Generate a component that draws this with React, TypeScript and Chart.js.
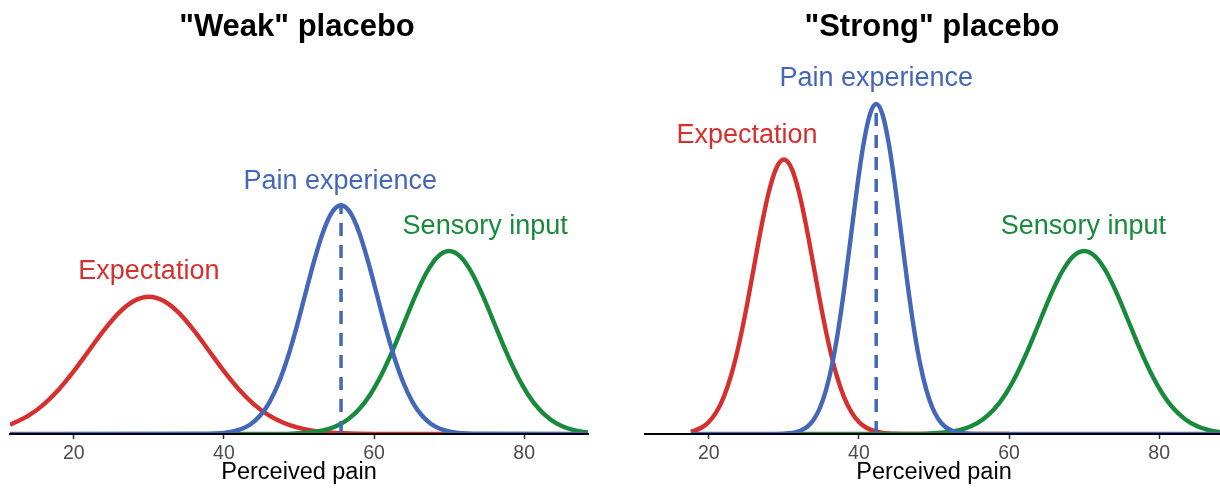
import React, { useEffect, useRef } from 'react';
import { Chart, registerables } from 'chart.js';

Chart.register(...registerables);

// ---------- data ----------
const xLimits = [11.5, 88.5];
const yLimits = [0, 12.5];
const tickValues = [20, 40, 60, 80];
const panelTitles = ['"Weak" placebo', '"Strong" placebo'];
const axisTitle = 'Perceived pain';
const labelNames = ['Expectation', 'Pain experience', 'Sensory input'];

// Weak placebo: expectation curve (density, %)
const weakExpX = [11.5, 12, 14, 16, 18, 20, 22, 24, 26, 28, 30, 32, 34, 36, 38, 40, 42, 44, 46, 48, 50, 52, 54, 56, 58, 60, 62, 66, 70];
const weakExpY = [0.344, 0.397, 0.675, 1.079, 1.619, 2.283, 3.025, 3.764, 4.401, 4.833, 4.987, 4.833, 4.401, 3.764, 3.025, 2.283, 1.619, 1.079, 0.675, 0.397, 0.219, 0.114, 0.055, 0.025, 0.011, 0.004, 0.002, 0, 0];

// Weak placebo: pain experience curve
const weakPainX = [11.5, 37.6, 38.8, 40.0, 41.2, 42.4, 43.6, 44.8, 46.0, 47.2, 48.4, 49.6, 50.8, 52.0, 53.2, 54.4, 55.6, 56.8, 58.0, 59.2, 60.4, 61.6, 62.8, 64.0, 65.2, 66.4, 67.6, 68.8, 70.0, 71.2, 72.4, 73.6, 88.5];
const weakPainY = [0, 0.007, 0.018, 0.042, 0.092, 0.189, 0.365, 0.662, 1.125, 1.798, 2.699, 3.805, 5.041, 6.273, 7.334, 8.055, 8.311, 8.055, 7.334, 6.273, 5.041, 3.805, 2.699, 1.798, 1.125, 0.662, 0.365, 0.189, 0.092, 0.042, 0.018, 0.007, 0];

// Sensory input curve (same in both panels)
const sensoryX = [32, 41.5, 44.5, 46, 47.5, 49, 50.5, 52, 53.5, 55, 56.5, 58, 59.5, 61, 62.5, 64, 65.5, 67, 68.5, 70, 71.5, 73, 74.5, 76, 77.5, 79, 80.5, 82, 83.5, 85, 86.5, 88, 88.5];
const sensoryY = [0, 0, 0.001, 0.002, 0.006, 0.015, 0.034, 0.074, 0.152, 0.292, 0.529, 0.9, 1.438, 2.159, 3.044, 4.033, 5.019, 5.868, 6.444, 6.649, 6.444, 5.868, 5.019, 4.033, 3.044, 2.159, 1.438, 0.9, 0.529, 0.292, 0.152, 0.074, 0.057];
const weakSensoryStart = 41.5;

// Strong placebo: expectation curve
const strongExpX = [17.6, 18, 19, 20, 21, 22, 23, 24, 25, 26, 27, 28, 29, 30, 31, 32, 33, 34, 35, 36, 37, 38, 39, 40, 41, 42, 43, 44, 45, 46, 48, 60];
const strongExpY = [0.082, 0.111, 0.227, 0.438, 0.794, 1.35, 2.157, 3.239, 4.566, 6.049, 7.528, 8.802, 9.667, 9.974, 9.667, 8.802, 7.528, 6.049, 4.566, 3.239, 2.157, 1.35, 0.794, 0.438, 0.227, 0.111, 0.051, 0.022, 0.009, 0.003, 0, 0];

// Strong placebo: pain experience curve
const strongPainX = [17.6, 28.99, 29.82, 30.65, 31.48, 32.32, 33.15, 33.98, 34.81, 35.64, 36.48, 37.31, 38.14, 38.97, 39.8, 40.64, 41.47, 42.3, 43.13, 43.96, 44.8, 45.63, 46.46, 47.29, 48.12, 48.96, 49.79, 50.62, 51.45, 52.28, 53.12, 53.95, 54.78, 55.61, 88.5];
const strongPainY = [0, 0.004, 0.01, 0.026, 0.061, 0.133, 0.273, 0.526, 0.954, 1.622, 2.593, 3.893, 5.489, 7.272, 9.05, 10.58, 11.62, 11.99, 11.62, 10.58, 9.05, 7.272, 5.489, 3.893, 2.593, 1.622, 0.954, 0.526, 0.273, 0.133, 0.061, 0.026, 0.01, 0.004, 0];

// Dashed markers at pain experience mean: [weak, strong]
const painMeanX = [55.6, 42.3];
const painPeakY = [8.311, 11.99];

// Label anchors (data coords) : Expectation, Pain experience, Sensory input
const weakLabelX = [30, 55.5, 74.8];
const weakLabelY = [5.92, 9.19, 7.54];
const strongLabelX = [25.1, 42.3, 69.9];
const strongLabelY = [10.86, 12.9, 7.54];

// ---------- styling ----------
const FONT = '"Liberation Sans", Arial, Helvetica, sans-serif';
const RED = '#D6302E';
const BLUE = '#4467B7';
const GREEN = '#178B3B';
const labelColors = [RED, BLUE, GREEN];

const toPoints = (xs: number[], ys: number[]) => xs.map((x, i) => ({ x, y: ys[i] }));

function curve(points: { x: number; y: number }[], color: string) {
  return {
    data: points,
    borderColor: color,
    borderWidth: 4.4,
    pointRadius: 0,
    fill: false,
    cubicInterpolationMode: 'monotone' as const,
    borderCapStyle: 'butt' as const,
    borderJoinStyle: 'round' as const,
  };
}

function dashed(x: number, top: number) {
  return {
    data: [{ x, y: 0 }, { x, y: top }],
    borderColor: BLUE,
    borderWidth: 3.5,
    borderDash: [13, 9],
    pointRadius: 0,
    tension: 0,
    fill: false,
    borderCapStyle: 'butt' as const,
  };
}

function makeConfig(
  title: string,
  datasets: any[],
  labelX: number[],
  labelY: number[],
  padLeft: number,
  padRight: number
) {
  const textPlugin = {
    id: 'panelText',
    afterDraw(chart: any) {
      const { ctx, chartArea, scales } = chart;
      ctx.save();
      ctx.textAlign = 'center';
      ctx.textBaseline = 'middle';
      ctx.fillStyle = '#000';
      ctx.font = `bold 31px ${FONT}`;
      ctx.fillText(title, (chartArea.left + chartArea.right) / 2 - 2, 27);
      ctx.font = `27px ${FONT}`;
      labelNames.forEach((name, i) => {
        ctx.fillStyle = labelColors[i];
        ctx.fillText(name, scales.x.getPixelForValue(labelX[i]), scales.y.getPixelForValue(labelY[i]));
      });
      ctx.restore();
    },
  };
  return {
    type: 'line' as const,
    data: { datasets },
    plugins: [textPlugin],
    options: {
      responsive: false,
      animation: false as const,
      devicePixelRatio: 1,
      layout: { padding: { top: 90, left: padLeft, right: padRight, bottom: 0 } },
      plugins: { legend: { display: false }, tooltip: { enabled: false }, title: { display: false } },
      scales: {
        x: {
          type: 'linear' as const,
          min: xLimits[0],
          max: xLimits[1],
          afterBuildTicks: (s: any) => {
            s.ticks = tickValues.map((v) => ({ value: v }));
          },
          afterFit: (s: any) => {
            s.height = 61;
          },
          grid: {
            display: true,
            drawOnChartArea: false,
            drawTicks: true,
            tickLength: 5,
            tickWidth: 1.5,
            tickColor: '#333333',
          },
          border: { display: true, color: '#000000', width: 2, z: 1 },
          ticks: {
            color: '#4D4D4D',
            font: { family: FONT, size: 19.5 },
            padding: 3,
            maxRotation: 0,
            autoSkip: false,
            callback: (v: any) => String(v),
          },
          title: {
            display: true,
            text: axisTitle,
            color: '#000000',
            font: { family: FONT, size: 23.5 },
            padding: { top: 0, bottom: 8 },
          },
        },
        y: { display: false, min: yLimits[0], max: yLimits[1] },
      },
    },
  };
}

export default function App() {
  const leftRef = useRef<HTMLCanvasElement>(null);
  const rightRef = useRef<HTMLCanvasElement>(null);

  useEffect(() => {
    const weakSensory = toPoints(sensoryX, sensoryY).filter((p) => p.x >= weakSensoryStart);
    const left = new Chart(
      leftRef.current!,
      makeConfig(
        panelTitles[0],
        [
          dashed(painMeanX[0], painPeakY[0]),
          curve(toPoints(weakPainX, weakPainY), BLUE),
          curve(weakSensory, GREEN),
          curve(toPoints(weakExpX, weakExpY), RED),
        ],
        weakLabelX,
        weakLabelY,
        10,
        12
      ) as any
    );
    const right = new Chart(
      rightRef.current!,
      makeConfig(
        panelTitles[1],
        [
          dashed(painMeanX[1], painPeakY[1]),
          curve(toPoints(strongPainX, strongPainY), BLUE),
          curve(toPoints(sensoryX, sensoryY), GREEN),
          curve(toPoints(strongExpX, strongExpY), RED),
        ],
        strongLabelX,
        strongLabelY,
        35,
        12
      ) as any
    );
    return () => {
      left.destroy();
      right.destroy();
    };
  }, []);

  return (
    <div
      style={{
        position: 'fixed',
        left: 0,
        top: 0,
        width: 1220,
        height: 495,
        overflow: 'hidden',
        background: '#ffffff',
      }}
    >
      <canvas
        ref={leftRef}
        width={600}
        height={495}
        style={{ position: 'absolute', left: 0, top: 0, width: 600, height: 495 }}
      />
      <canvas
        ref={rightRef}
        width={625}
        height={495}
        style={{ position: 'absolute', left: 610, top: 0, width: 625, height: 495 }}
      />
    </div>
  );
}
